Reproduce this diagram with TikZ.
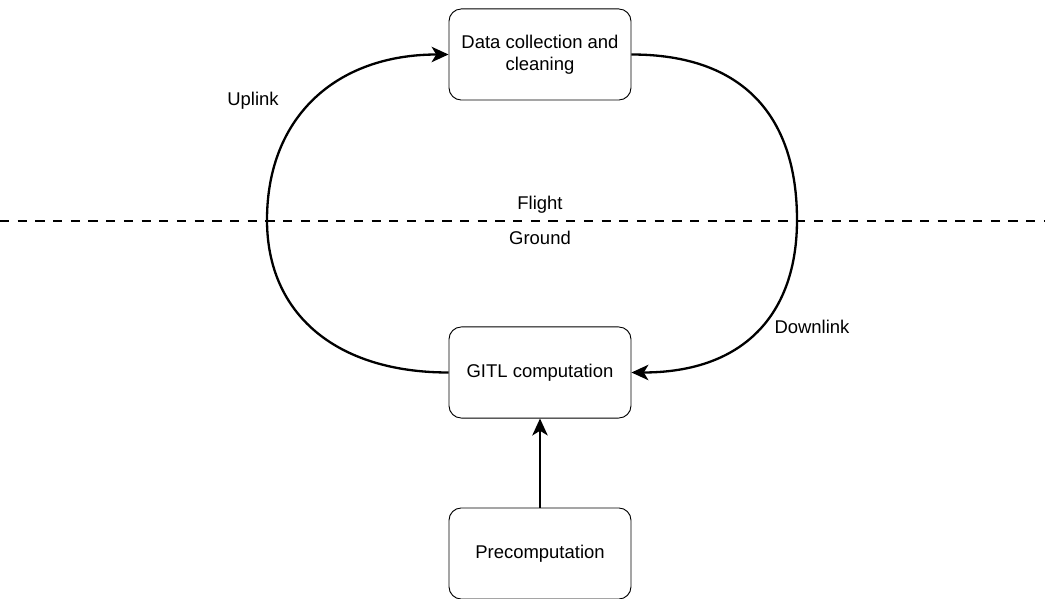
\documentclass[tikz,border=0pt]{standalone}
\usepackage{fontspec}
\setmainfont{Liberation Sans}
\usepackage{tikz}
\usetikzlibrary{arrows.meta}

\begin{document}
\begin{tikzpicture}[x=0.65pt,y=-0.65pt,
  stage/.style={draw,line width=0.6pt,rounded corners=8pt,minimum width=118.3pt,minimum height=59.2pt,align=center,inner sep=0.75pt,font=\fontsize{12}{14.5}\selectfont},
  tag/.style={inner sep=0.75pt,font=\fontsize{12}{14.5}\selectfont},
  link/.style={line width=1.5pt,-{Stealth[length=11pt,width=10pt,inset=3pt]}}]
\useasboundingbox (0,0) rectangle (1045,599);

%Shapes: Rounded Rect
\node [stage] (collect) at (540,54.5) {Data collection and\\cleaning};
\node [stage] (gitl) at (540,372.5) {GITL computation};
\node [stage] (precomp) at (540,553.5) {Precomputation};

%Straight Lines: flight / ground border
\coordinate (sepL) at (0,221);
\coordinate (sepR) at (1045,221);
\draw [line width=1.5pt,dash pattern=on 6pt off 5.5pt] (sepL) -- (sepR);

%Curve Lines
\coordinate (upmid) at (267,220);
\coordinate (downmid) at (797,220);
\draw [link] (gitl.west) .. controls (336,372.5) and (267,314) .. (upmid) .. controls (267,117) and (336,54.5) .. (collect.west);
\draw [link] (collect.east) .. controls (744,54.5) and (797,117) .. (downmid) .. controls (797,314) and (744,372.5) .. (gitl.east);
%Straight Lines
\draw [link] (precomp.north) -- (gitl.south);

% Text Node
\node [tag] (uplink) at (253,101) {Uplink};
% Text Node
\node [tag] (downlink) at (812,327) {Downlink};
% Text Node
\node [tag] (flight) at (540,205) {Flight};
% Text Node
\node [tag] (ground) at (540,238) {Ground};
\end{tikzpicture}
\end{document}
